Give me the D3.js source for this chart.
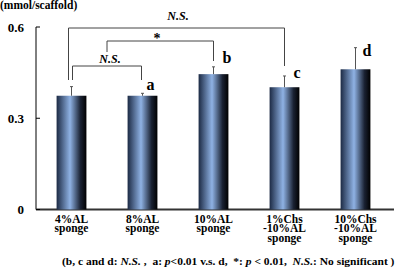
<!DOCTYPE html>
<html>
<head>
<meta charset="utf-8">
<script src="https://cdn.jsdelivr.net/npm/d3@7"></script>
<style>
  body { margin: 0; background: #fff; }
  svg text { font-family: "Liberation Serif", "Times New Roman", serif; font-weight: bold; fill: #000; }
</style>
</head>
<body>
<div id="chart"></div>
<script>
// Data
const groups = ['4%AL sponge', '8%AL sponge', '10%AL sponge', '1%Chs -10%AL sponge', '10%Chs -10%AL sponge']
const groupLines = [['4%AL', 'sponge'], ['8%AL', 'sponge'], ['10%AL', 'sponge'], ['1%Chs', '-10%AL', 'sponge'], ['10%Chs', '-10%AL', 'sponge']]
const values = [0.374, 0.374, 0.445, 0.402, 0.461]
const errors = [0.030, 0.008, 0.024, 0.037, 0.071]
const letters = ['', 'a', 'b', 'c', 'd']
const yTicks = [0, 0.3, 0.6]

// letter placement relative to the error cap (style only)
const letterOffset = [[0, 0], [4, -3], [9, -4], [9, 2], [7, 8]]

// Dimensions
const dimensions = { width: 396, height: 268 }

const svg = d3.select('#chart')
  .append('svg')
  .attr('width', dimensions.width)
  .attr('height', dimensions.height)

const x = d3.scaleBand()
  .domain(groups)
  .range([36, 391])
  .paddingInner(0.58)
  .paddingOuter(0.29)

const y = d3.scaleLinear()
  .domain([0, 0.6])
  .range([209.5, 27])

// bar gradient
const grad = svg.append('defs').append('linearGradient')
  .attr('id', 'barGrad')
  .attr('x1', '0%').attr('x2', '100%')
grad.append('stop').attr('offset', '0%').attr('stop-color', '#1c2a44')
grad.append('stop').attr('offset', '45%').attr('stop-color', '#8fb2e4')
grad.append('stop').attr('offset', '80%').attr('stop-color', '#1a2233')
grad.append('stop').attr('offset', '100%').attr('stop-color', '#000')

// axes
svg.append('line')
  .attr('x1', 36).attr('x2', 36)
  .attr('y1', y(0.6)).attr('y2', y(0))
  .attr('stroke', '#000').attr('stroke-width', 1)
svg.append('line')
  .attr('x1', 36).attr('x2', 394)
  .attr('y1', y(0)).attr('y2', y(0))
  .attr('stroke', '#333').attr('stroke-width', 2)

svg.selectAll('.ytick')
  .data(yTicks)
  .join('line')
  .attr('x1', 36).attr('x2', 40)
  .attr('y1', d => y(d)).attr('y2', d => y(d))
  .attr('stroke', '#000')

svg.selectAll('.ylab')
  .data(yTicks)
  .join('text')
  .attr('x', 24)
  .attr('y', d => y(d) + 4.5)
  .attr('text-anchor', 'end')
  .attr('font-size', 13)
  .text(d => d === 0 ? '0' : d.toFixed(1))

svg.append('text')
  .attr('x', 0).attr('y', 9)
  .attr('font-size', 11.5)
  .text('(mmol/scaffold)')

// bars
svg.selectAll('rect.bar')
  .data(groups)
  .join('rect')
  .attr('class', 'bar')
  .attr('x', d => x(d))
  .attr('width', x.bandwidth())
  .attr('y', (d, i) => y(values[i]))
  .attr('height', (d, i) => y(0) - y(values[i]))
  .attr('fill', 'url(#barGrad)')

// error bars (upper only)
const cx = d => x(d) + x.bandwidth() / 2
svg.selectAll('line.err')
  .data(groups)
  .join('line')
  .attr('class', 'err')
  .attr('x1', cx).attr('x2', cx)
  .attr('y1', (d, i) => y(values[i]))
  .attr('y2', (d, i) => y(values[i] + errors[i]))
  .attr('stroke', '#555').attr('stroke-width', 1)
svg.selectAll('line.cap')
  .data(groups)
  .join('line')
  .attr('class', 'cap')
  .attr('x1', d => cx(d) - 1.5).attr('x2', d => cx(d) + 1.5)
  .attr('y1', (d, i) => y(values[i] + errors[i]))
  .attr('y2', (d, i) => y(values[i] + errors[i]))
  .attr('stroke', '#555').attr('stroke-width', 1)

// significance letters
svg.selectAll('text.letter')
  .data(groups)
  .join('text')
  .attr('class', 'letter')
  .attr('x', (d, i) => cx(d) + letterOffset[i][0])
  .attr('y', (d, i) => y(values[i] + errors[i]) + letterOffset[i][1])
  .attr('font-size', 16)
  .text((d, i) => letters[i])

// x labels
svg.selectAll('text.xlab')
  .data(groups)
  .join('text')
  .attr('class', 'xlab')
  .attr('text-anchor', 'middle')
  .attr('font-size', 11.5)
  .attr('transform', d => `translate(${cx(d)}, 222.5)`)
  .each(function (d, i) {
    d3.select(this).selectAll('tspan')
      .data(groupLines[i])
      .join('tspan')
      .attr('x', 0)
      .attr('y', (t, j) => j * 9.8)
      .text(t => t)
  })

// brackets
const bracket = (a, b, ya, yb, top) => {
  svg.append('path')
    .attr('d', `M${a},${ya}V${top}H${b}V${yb}`)
    .attr('fill', 'none')
    .attr('stroke', '#444').attr('stroke-width', 1)
}
bracket(cx(groups[0]) - 3, cx(groups[3]), 80, 66, 28)
bracket(107, cx(groups[2]), 52, 61, 41)
bracket(cx(groups[0]) + 1, cx(groups[1]) - 1, 80, 80, 66)

svg.append('text').attr('x', 110).attr('y', 63).attr('text-anchor', 'middle')
  .attr('font-size', 12).attr('font-style', 'italic').text('N.S.')
svg.append('text').attr('x', 157).attr('y', 43).attr('text-anchor', 'middle')
  .attr('font-size', 14).text('*')
svg.append('text').attr('x', 178).attr('y', 20).attr('text-anchor', 'middle')
  .attr('font-size', 12).attr('font-style', 'italic').text('N.S.')

// footnote
const foot = svg.append('text')
  .attr('x', 0).attr('y', 0)
  .attr('font-size', 10.5)
const parts = [
  ['(b, c and d: ', false], ['N.S.', true], [' ,  a: ', false], ['p', true],
  ['<0.01 v.s. d,  *: ', false], ['p', true], [' < 0.01,  ', false],
  ['N.S.', true], [': No significant )', false]
]
foot.selectAll('tspan')
  .data(parts)
  .join('tspan')
  .attr('font-style', d => d[1] ? 'italic' : 'normal')
  .attr('xml:space', 'preserve')
  .style('white-space', 'pre')
  .text(d => d[0])
// stretch to the reference width
const fw = foot.node().getComputedTextLength()
foot.attr('transform', `translate(62, 265) scale(${333 / fw}, 1)`)
</script>
</body>
</html>
